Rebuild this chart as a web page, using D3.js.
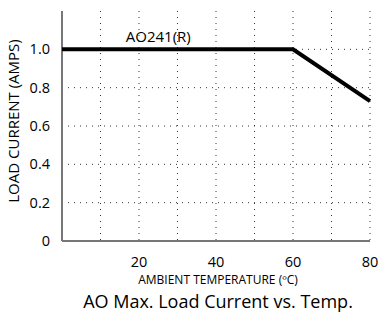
<!DOCTYPE html>
<meta charset="utf-8">
<script src="https://d3js.org/d3.v7.min.js"></script>
<style>
  body { margin: 0; background: #fff; }
  text { font-family: "Open Sans", sans-serif; fill: #000; }
</style>
<div id="chart"></div>
<script>

// data
var temps = [0, 60, 80];
var amps = [1.0, 1.0, 0.73];
var xTicks = [20, 40, 60, 80];
var yTicks = [0, 0.2, 0.4, 0.6, 0.8, 1.0];
var xGrid = [10, 20, 30, 40, 50, 60, 70, 80];
var yGrid = [0.2, 0.4, 0.6, 0.8, 1.0];

var margin = {top: 11, right: 13, bottom: 75, left: 62},
    width = 383 - margin.left - margin.right,
    height = 316 - margin.top - margin.bottom;

var svg = d3.select("#chart")
  .append("svg")
    .attr("width", 383)
    .attr("height", 316)
  .append("g")
    .attr("transform", "translate(" + margin.left + "," + margin.top + ")");

var x = d3.scaleLinear().domain([0, 80]).range([0, width]);
var y = d3.scaleLinear().domain([0, 1.2]).range([height, 0]);

// dotted grid
svg.selectAll(".vgrid")
  .data(xGrid)
  .enter().append("line")
    .attr("x1", function(d) { return x(d); })
    .attr("x2", function(d) { return x(d); })
    .attr("y1", 0)
    .attr("y2", height)
    .style("stroke", "#333")
    .style("stroke-width", 1)
    .style("stroke-dasharray", "1,5");

svg.selectAll(".hgrid")
  .data(yGrid)
  .enter().append("line")
    .attr("x1", 0)
    .attr("x2", width)
    .attr("y1", function(d) { return y(d); })
    .attr("y2", function(d) { return y(d); })
    .style("stroke", "#333")
    .style("stroke-width", 1)
    .style("stroke-dasharray", "1,5");

// axes
svg.append("line")
  .attr("x1", 0).attr("x2", 0)
  .attr("y1", 0).attr("y2", height)
  .style("stroke", "#777").style("stroke-width", 2);
svg.append("line")
  .attr("x1", 0).attr("x2", width)
  .attr("y1", height).attr("y2", height)
  .style("stroke", "#777").style("stroke-width", 2);

// tick labels
svg.selectAll(".ylab")
  .data(yTicks)
  .enter().append("text")
    .attr("x", -12)
    .attr("y", function(d) { return y(d); })
    .attr("dy", "0.35em")
    .style("text-anchor", "end")
    .style("font-size", "14.5px")
    .text(function(d) { return d === 0 ? "0" : d.toFixed(1); });

svg.selectAll(".xlab")
  .data(xTicks)
  .enter().append("text")
    .attr("x", function(d) { return x(d); })
    .attr("y", height + 26)
    .style("text-anchor", "middle")
    .style("font-size", "14.5px")
    .text(function(d) { return d; });

// the curve
var line = d3.line()
  .x(function(d, i) { return x(temps[i]); })
  .y(function(d) { return y(d); });

svg.append("path")
  .datum(amps)
  .attr("d", line)
  .style("fill", "none")
  .style("stroke", "#000")
  .style("stroke-width", 4);

svg.append("text")
  .attr("x", x(25))
  .attr("y", y(1.0) - 7)
  .style("text-anchor", "middle")
  .style("font-size", "15px")
  .text("AO241(R)");

// axis titles
svg.append("text")
  .attr("x", width / 2 + 2)
  .attr("y", height + 43)
  .style("text-anchor", "middle")
  .style("font-size", "12px")
  .text("AMBIENT TEMPERATURE (ºC)");

svg.append("text")
  .attr("transform", "rotate(-90)")
  .attr("x", -y(0.6) + 5)
  .attr("y", -43)
  .style("text-anchor", "middle")
  .style("font-size", "15px")
  .text("LOAD CURRENT (AMPS)");

svg.append("text")
  .attr("x", width / 2 + 2)
  .attr("y", height + 67)
  .style("text-anchor", "middle")
  .style("font-size", "18px")
  .text("AO Max. Load Current vs. Temp.");

</script>
